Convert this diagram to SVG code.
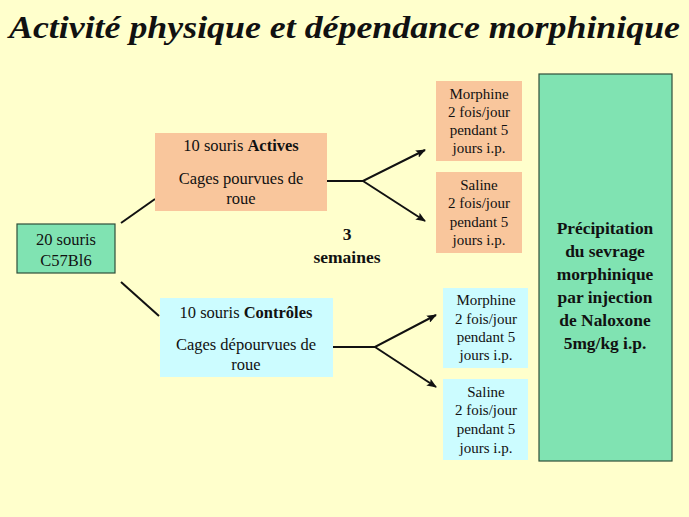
<svg xmlns="http://www.w3.org/2000/svg" width="689" height="517" viewBox="0 0 689 517">
<defs>
<marker id="ah" markerWidth="10" markerHeight="8" refX="9" refY="4" orient="auto" markerUnits="userSpaceOnUse">
<path d="M0,0 L10,4 L0,8 L2,4 Z" fill="#111"/>
</marker>
<style>
text{fill:#111;text-anchor:middle}
.t{font-size:16.5px}
.s{font-size:15px}
.b{font-weight:bold}
.w{font-size:17.5px;font-weight:bold}
.big{font-size:17.4px;font-weight:bold}
.title{font-size:31px;font-weight:bold;font-style:italic;text-anchor:start}
.or{fill:#F9C69C}
.bl{fill:#CCFCFF}
.gr{fill:#80E3B2;stroke:#2F4F3A;stroke-width:1.2}
.ln{stroke:#111;stroke-width:2;fill:none}
</style>
</defs>
<rect width="689" height="517" fill="#FFFFCC"/>
<g font-family="'Liberation Serif', 'Times New Roman', serif">
<text class="title" x="9" y="38" textLength="671" lengthAdjust="spacingAndGlyphs">Activité physique et dépendance morphinique</text>

<g id="connectors">
<line class="ln" x1="121" y1="223" x2="155" y2="199"/>
<line class="ln" x1="121" y1="282" x2="159" y2="316"/>
<path class="ln" d="M310,181 L363,181 L425,150" marker-end="url(#ah)"/>
<path class="ln" d="M363,181 L425,221" marker-end="url(#ah)"/>
<path class="ln" d="M320,347 L375,347 L436,315" marker-end="url(#ah)"/>
<path class="ln" d="M375,347 L436,387" marker-end="url(#ah)"/>
</g>

<g id="n-start">
<rect class="gr" x="17" y="224" width="98" height="49"/>
<text class="t" x="66" y="245">20 souris</text>
<text class="t" x="66" y="266">C57Bl6</text>
</g>

<g id="n-actives">
<rect class="or" x="155" y="133" width="172" height="78"/>
<text class="t" x="241" y="151">10 souris <tspan class="b">Actives</tspan></text>
<text class="t" x="241" y="184">Cages pourvues de</text>
<text class="t" x="241" y="204">roue</text>
</g>

<g id="n-controles">
<rect class="bl" x="160" y="298" width="173" height="79"/>
<text class="t" x="246" y="318">10 souris <tspan class="b">Contrôles</tspan></text>
<text class="t" x="246" y="350">Cages dépourvues de</text>
<text class="t" x="246" y="370">roue</text>
</g>

<g id="n-weeks">
<text class="w" x="347" y="240">3</text>
<text class="w" x="347" y="263">semaines</text>
</g>

<g id="n-act-morphine">
<rect class="or" x="436" y="81" width="86" height="80"/>
<text class="s" x="479" y="99">Morphine</text>
<text class="s" x="479" y="117">2 fois/jour</text>
<text class="s" x="479" y="135">pendant 5</text>
<text class="s" x="479" y="153">jours i.p.</text>
</g>

<g id="n-act-saline">
<rect class="or" x="436" y="172" width="86" height="81"/>
<text class="s" x="479" y="190">Saline</text>
<text class="s" x="479" y="208">2 fois/jour</text>
<text class="s" x="479" y="227">pendant 5</text>
<text class="s" x="479" y="245">jours i.p.</text>
</g>

<g id="n-ctl-morphine">
<rect class="bl" x="443" y="288" width="85" height="80"/>
<text class="s" x="486" y="305">Morphine</text>
<text class="s" x="486" y="324">2 fois/jour</text>
<text class="s" x="486" y="342">pendant 5</text>
<text class="s" x="486" y="360">jours i.p.</text>
</g>

<g id="n-ctl-saline">
<rect class="bl" x="443" y="379" width="85" height="81"/>
<text class="s" x="486" y="397">Saline</text>
<text class="s" x="486" y="415">2 fois/jour</text>
<text class="s" x="486" y="434">pendant 5</text>
<text class="s" x="486" y="453">jours i.p.</text>
</g>

<g id="n-precip">
<rect class="gr" x="539" y="74" width="133" height="387"/>
<text class="big" x="605" y="234">Précipitation</text>
<text class="big" x="605" y="257">du sevrage</text>
<text class="big" x="605" y="280">morphinique</text>
<text class="big" x="605" y="303">par injection</text>
<text class="big" x="605" y="326">de Naloxone</text>
<text class="big" x="605" y="349">5mg/kg i.p.</text>
</g>
</g>
</svg>
